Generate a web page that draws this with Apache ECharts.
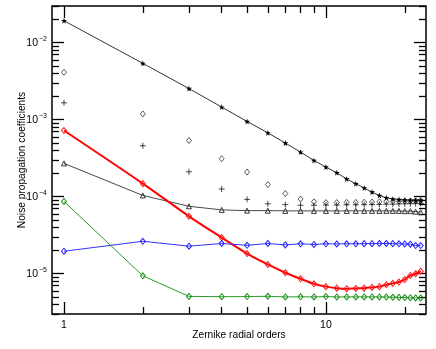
<!DOCTYPE html>
<html>
<head>
<meta charset="utf-8">
<script src="https://cdn.jsdelivr.net/npm/echarts@6/dist/echarts.min.js"></script>
<style>
  html, body { margin: 0; padding: 0; background: #fff; }
  #main { width: 436px; height: 349px; }
</style>
</head>
<body>
<div id="main"></div>
<script>
// radial orders 1..23
const orders = [1, 2, 3, 4, 5, 6, 7, 8, 9, 10, 11, 12, 13, 14, 15, 16, 17, 18, 19, 20, 21, 22, 23];

const starVals = [1.93e-2, 5.4e-3, 2.54e-3, 1.46e-3, 9.5e-4, 6.76e-4, 4.98e-4, 3.8e-4, 2.96e-4, 2.43e-4,
  2.05e-4, 1.7e-4, 1.48e-4, 1.3e-4, 1.15e-4, 1.04e-4, 9.7e-5, 9.35e-5, 9.2e-5, 9.1e-5, 9.0e-5, 9.0e-5, 9.0e-5];
const diamondVals = [4.13e-3, 1.19e-3, 5.38e-4, 3.12e-4, 2.09e-4, 1.44e-4, 1.1e-4, 9.35e-5, 8.6e-5, 8.4e-5,
  8.4e-5, 8.45e-5, 8.45e-5, 8.5e-5, 8.55e-5, 8.6e-5, 8.65e-5, 8.7e-5, 8.75e-5, 8.8e-5, 8.8e-5, 8.85e-5, 8.9e-5];
const plusVals = [1.66e-3, 4.59e-4, 2.11e-4, 1.26e-4, 9.25e-5, 8.1e-5, 7.9e-5, 7.75e-5, 7.75e-5, 7.8e-5,
  7.8e-5, 7.85e-5, 7.85e-5, 7.9e-5, 7.9e-5, 7.95e-5, 8.0e-5, 8.0e-5, 8.05e-5, 8.1e-5, 8.1e-5, 8.15e-5, 8.2e-5];
const triangleVals = [2.71e-4, 1.04e-4, 7.52e-5, 6.75e-5, 6.6e-5, 6.6e-5, 6.55e-5, 6.55e-5, 6.55e-5, 6.55e-5,
  6.55e-5, 6.55e-5, 6.55e-5, 6.55e-5, 6.55e-5, 6.55e-5, 6.55e-5, 6.55e-5, 6.55e-5, 6.5e-5, 6.5e-5, 6.4e-5, 6.3e-5];
const redVals = [7.24e-4, 1.48e-4, 5.57e-5, 2.95e-5, 1.83e-5, 1.32e-5, 1.03e-5, 8.6e-6, 7.4e-6, 6.8e-6,
  6.5e-6, 6.4e-6, 6.45e-6, 6.5e-6, 6.65e-6, 6.8e-6, 7.2e-6, 7.5e-6, 7.8e-6, 8.4e-6, 9.5e-6, 1.0e-5, 1.08e-5];
const blueVals = [1.96e-5, 2.64e-5, 2.28e-5, 2.47e-5, 2.34e-5, 2.47e-5, 2.37e-5, 2.45e-5, 2.4e-5, 2.45e-5,
  2.44e-5, 2.45e-5, 2.45e-5, 2.46e-5, 2.46e-5, 2.47e-5, 2.47e-5, 2.46e-5, 2.45e-5, 2.44e-5, 2.42e-5, 2.32e-5, 2.32e-5];
const greenVals = [8.7e-5, 9.4e-6, 5.08e-6, 5.03e-6, 5.05e-6, 5.1e-6, 5.0e-6, 5.02e-6, 5.0e-6, 5.05e-6,
  5.0e-6, 5.0e-6, 5.0e-6, 5.0e-6, 5.0e-6, 5.0e-6, 4.98e-6, 4.95e-6, 4.93e-6, 4.9e-6, 4.88e-6, 4.85e-6, 4.85e-6];

// tick positions
const xMajor = [1, 10];
const xMinor = [2, 3, 4, 5, 6, 7, 8, 9, 20];
const yMajor = [1e-5, 1e-4, 1e-3, 1e-2];
const yMinor = [];
[1e-6, 1e-5, 1e-4, 1e-3, 1e-2].forEach(d => {
  for (let k = 2; k <= 9; k++) yMinor.push(k * d);
});

const X_MIN = 0.9, X_MAX = 24.1, Y_MIN = 3e-6, Y_MAX = 3e-2;
const FONT = 'Liberation Sans, Arial, sans-serif';

const starPath = 'path://M50,0L61,35L98,35L68,57L79,91L50,70L21,91L32,57L2,35L39,35Z';
const plusPath = 'path://M5,0L5,10M0,5L10,5';

function zip(vals) {
  return orders.map((o, i) => [o, vals[i]]);
}

function xAxisOf(pos, ticks, len, labels, name) {
  return {
    type: 'log', logBase: 10, position: pos, min: X_MIN, max: X_MAX,
    axisLine: { show: false },
    splitLine: { show: false },
    axisTick: { show: true, inside: true, length: len, customValues: ticks, lineStyle: { color: '#000', width: 1.3 } },
    axisLabel: labels ? { show: true, customValues: labels, margin: 6, color: '#000', fontSize: 10.5, fontFamily: FONT }
                      : { show: false },
    name: name || '',
    nameLocation: 'middle', nameGap: 16, nameMoveOverlap: false,
    nameTextStyle: { color: '#000', fontSize: 10.2, fontFamily: FONT }
  };
}

function yAxisOf(pos, ticks, len, labels, name) {
  return {
    type: 'log', logBase: 10, position: pos, min: Y_MIN, max: Y_MAX,
    axisLine: { show: false },
    splitLine: { show: false },
    axisTick: { show: true, inside: true, length: len, customValues: ticks, lineStyle: { color: '#000', width: 1.3 } },
    axisLabel: labels ? {
      show: true, customValues: labels, margin: 5,
      formatter: v => '{b|10}{e|\u2212' + Math.round(-Math.log10(v)) + '}',
      rich: {
        b: { fontSize: 10.5, fontFamily: FONT, color: '#000' },
        e: { fontSize: 7, fontFamily: FONT, color: '#000', padding: [0, 0, 7, 1] }
      }
    } : { show: false },
    name: name || '',
    nameLocation: 'middle', nameGap: 25, nameMoveOverlap: false,
    nameTextStyle: { color: '#000', fontSize: 10.2, fontFamily: FONT }
  };
}

const chart = echarts.init(document.getElementById('main'), null, { renderer: 'canvas' });

const option = {
  backgroundColor: '#fff',
  animation: false,
  grid: {
    left: 52, right: 10, top: 6, bottom: 35,
    show: true, borderColor: '#000', borderWidth: 1.5, backgroundColor: 'transparent'
  },
  xAxis: [
    xAxisOf('bottom', xMajor, 12, xMajor, 'Zernike radial orders'),
    xAxisOf('bottom', xMinor, 7),
    xAxisOf('top', xMajor, 12),
    xAxisOf('top', xMinor, 7)
  ],
  yAxis: [
    yAxisOf('left', yMajor, 12, yMajor, 'Noise propagation coefficients'),
    yAxisOf('left', yMinor, 7),
    yAxisOf('right', yMajor, 12),
    yAxisOf('right', yMinor, 7)
  ],
  series: [
    {
      name: 'stars', type: 'line', data: zip(starVals),
      symbol: starPath, symbolSize: 6,
      itemStyle: { color: '#000' },
      lineStyle: { color: '#000', width: 0.8 }
    },
    {
      name: 'diamonds', type: 'scatter', data: zip(diamondVals),
      symbol: 'diamond', symbolSize: [5, 6],
      itemStyle: { color: 'rgba(0,0,0,0)', borderColor: '#000', borderWidth: 0.8 }
    },
    {
      name: 'plus', type: 'scatter', data: zip(plusVals),
      symbol: plusPath, symbolSize: 6,
      itemStyle: { color: 'rgba(0,0,0,0)', borderColor: '#000', borderWidth: 0.9 }
    },
    {
      name: 'triangles', type: 'line', data: zip(triangleVals),
      symbol: 'triangle', symbolSize: 5, showAllSymbol: true,
      itemStyle: { color: 'rgba(0,0,0,0)', borderColor: '#222', borderWidth: 0.9 },
      lineStyle: { color: '#333', width: 0.9 }
    },
    {
      name: 'red', type: 'line', data: zip(redVals), smooth: 0.3,
      symbol: 'diamond', symbolSize: [5, 6], showAllSymbol: true,
      itemStyle: { color: 'rgba(0,0,0,0)', borderColor: '#ff1a1a', borderWidth: 1 },
      lineStyle: { color: '#ff0000', width: 2 }
    },
    {
      name: 'blue', type: 'line', data: zip(blueVals),
      symbol: 'diamond', symbolSize: [5, 6], showAllSymbol: true,
      itemStyle: { color: 'rgba(0,0,0,0)', borderColor: '#2222ff', borderWidth: 1 },
      lineStyle: { color: '#3333ff', width: 1 }
    },
    {
      name: 'green', type: 'line', data: zip(greenVals),
      symbol: 'diamond', symbolSize: [5, 6], showAllSymbol: true,
      itemStyle: { color: 'rgba(0,0,0,0)', borderColor: '#1f8f1f', borderWidth: 1 },
      lineStyle: { color: '#2a9a2a', width: 1 }
    }
  ]
};

chart.setOption(option);
</script>
</body>
</html>
